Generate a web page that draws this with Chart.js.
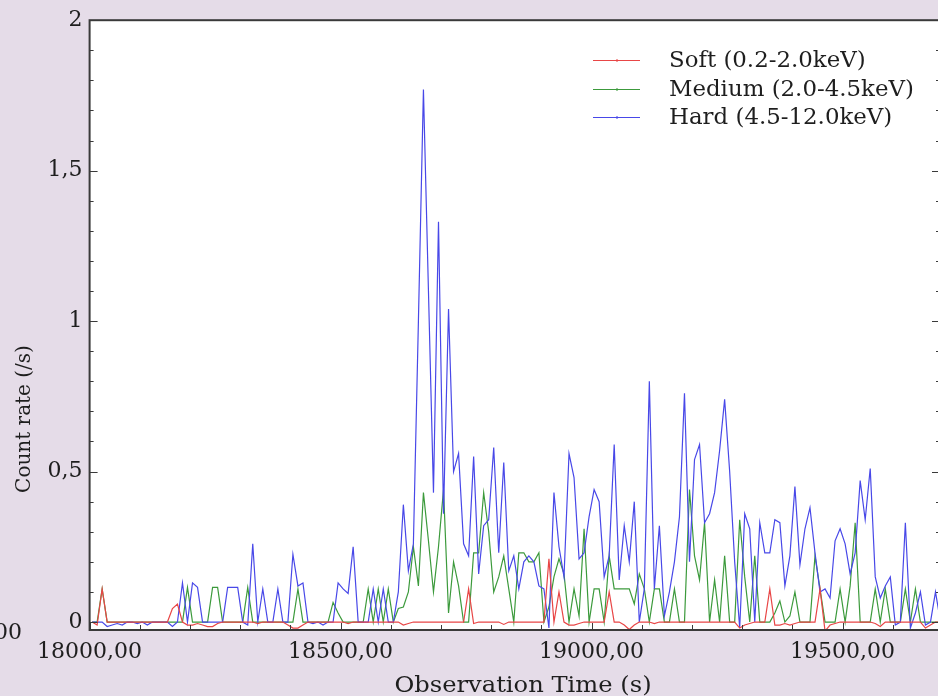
<!DOCTYPE html>
<html>
<head>
<meta charset="utf-8">
<title>Count rate</title>
<script src="https://cdn.jsdelivr.net/npm/chart.js@4.4.0/dist/chart.umd.min.js"></script>
<style>
  html, body { margin: 0; padding: 0; background: #e5dce8; overflow: hidden; }
  #wrap { position: relative; width: 950px; height: 696px; }
</style>
</head>
<body>
<div id="wrap"><canvas id="rateChart" width="950" height="696"></canvas></div>
<script>
// 10 s bins, first bin centred at 18005 s
const binStart = 18005;
const binWidth = 10;

const soft = [
  0, -0.01, 0.11, 0, 0, 0, 0, 0, 0, 0,
  0, 0, 0, 0, 0, 0, 0.045, 0.06, 0, -0.01,
  -0.01, -0.005, -0.01, -0.015, -0.015, -0.005, 0, 0, 0, 0,
  0, 0, 0, -0.005, 0, 0, 0, 0, 0, -0.01,
  -0.02, -0.02, -0.01, 0, 0, 0, 0, 0, 0, 0,
  0, -0.005, 0, 0, 0, 0, 0, 0, 0, 0,
  0, 0, -0.01, -0.005, 0, 0, 0, 0, 0, 0,
  0, 0, 0, 0, 0, 0.11, -0.005, 0, 0, 0,
  0, 0, -0.008, 0, 0, 0, 0, 0, 0, 0,
  0, 0.21, 0, 0.1, 0, -0.01, -0.01, -0.005, 0, 0,
  0, 0, 0, 0.1, 0, 0, -0.01, -0.025, -0.01, 0,
  0, 0, -0.005, 0, 0, 0, 0, 0, 0, 0,
  0, 0, 0, 0, 0, 0, 0, 0, 0, -0.02,
  -0.01, -0.005, 0, 0, 0, 0.11, -0.01, -0.01, -0.005, -0.01,
  -0.005, 0, 0, 0, 0, 0.11, -0.03, -0.01, -0.005, 0,
  0, 0, 0, 0, 0, 0, -0.005, -0.015, 0, 0,
  0, 0, 0, 0, 0, 0, -0.02, -0.01, 0, 0,
];

const medium = [
  0, 0, 0.11, 0, 0, 0, 0, 0, 0, 0,
  0, 0, 0, 0, 0, 0, 0, 0, 0, 0.115,
  0, 0, 0, 0, 0.115, 0.115, 0, 0, 0, 0,
  0, 0.115, 0, 0, 0, 0, 0, 0, 0, 0,
  0, 0.11, 0, 0, 0, 0, 0, 0, 0.065, 0.03,
  0, 0, 0, 0, 0, 0.11, 0, 0.11, 0, 0.11,
  0, 0.045, 0.05, 0.1, 0.25, 0.12, 0.43, 0.27, 0.1, 0.25,
  0.44, 0.03, 0.2, 0.12, 0, 0, 0.23, 0.23, 0.43, 0.3,
  0.1, 0.15, 0.22, 0.11, 0, 0.23, 0.23, 0.2, 0.2, 0.23,
  0, 0.05, 0.15, 0.21, 0.16, 0, 0.11, 0.02, 0.31, 0,
  0.11, 0.11, 0, 0.22, 0.11, 0.11, 0.11, 0.11, 0.06, 0.16,
  0.11, 0, 0.11, 0.11, 0, 0, 0.11, 0, 0, 0.44,
  0.22, 0.14, 0.33, 0, 0.14, 0, 0.22, 0, 0, 0.34,
  0.15, 0, 0.22, 0, 0, 0, 0.03, 0.07, 0, 0.02,
  0.1, 0, 0, 0, 0.22, 0.11, 0, 0, 0, 0.11,
  0, 0.12, 0.33, 0, 0, 0, 0.11, 0, 0.11, 0,
  0, 0, 0.11, 0, 0.11, 0, 0, 0, 0, 0,
];

const hard = [
  0, 0, 0, -0.015, -0.01, -0.005, -0.01, 0, 0, -0.005,
  0, -0.01, 0, 0, 0, 0, -0.015, 0, 0.13, 0,
  0.13, 0.115, 0, 0, 0, 0, 0, 0.115, 0.115, 0.115,
  0, -0.01, 0.26, 0, 0.11, 0, 0, 0.11, 0, 0,
  0.225, 0.12, 0.13, 0, -0.005, 0, -0.01, 0, 0, 0.13,
  0.11, 0.095, 0.25, 0, 0, 0, 0.11, 0, 0.11, 0,
  0, 0.1, 0.39, 0.17, 0.26, 1.0, 1.77, 1.1, 0.43, 1.33,
  0.36, 1.04, 0.5, 0.56, 0.26, 0.22, 0.55, 0.16, 0.32, 0.34,
  0.58, 0.23, 0.53, 0.17, 0.22, 0.11, 0.2, 0.22, 0.2, 0.12,
  0.11, -0.02, 0.43, 0.25, 0.15, 0.56, 0.48, 0.21, 0.23, 0.35,
  0.44, 0.4, 0.15, 0.22, 0.59, 0.14, 0.32, 0.2, 0.4, 0,
  0.11, 0.8, 0.11, 0.32, 0.02, 0.1, 0.2, 0.35, 0.76, 0.2,
  0.54, 0.59, 0.33, 0.36, 0.43, 0.57, 0.74, 0.5, 0.2, -0.02,
  0.36, 0.31, 0, 0.33, 0.23, 0.23, 0.34, 0.33, 0.12, 0.22,
  0.45, 0.19, 0.31, 0.38, 0.23, 0.1, 0.11, 0.08, 0.27, 0.31,
  0.26, 0.16, 0.23, 0.47, 0.34, 0.51, 0.15, 0.08, 0.12, 0.15,
  -0.01, 0, 0.33, -0.02, 0.03, 0.1, -0.01, 0, 0.1, 0,
];

const seriesLabels = ["Soft (0.2-2.0keV)", "Medium (2.0-4.5keV)", "Hard (4.5-12.0keV)"];
const seriesColors = ["#e84646", "#3c9a3c", "#4848e8"];
const yTickValues = [0, 0.5, 1, 1.5, 2];
const xTickStep = 100;
const xLabelStep = 500;
const xTitle = "Observation Time (s)";
const yTitle = "Count rate (/s)";

const serif = "'DejaVu Serif', serif";
const times = soft.map((_, i) => binStart + i * binWidth);
const toPoints = (values) => values.map((v, i) => ({ x: times[i], y: v }));
const commaNumber = (v, digits) =>
  (digits === undefined ? String(v) : v.toFixed(digits)).replace(".", ",");

const plotBackground = {
  id: "plotBackground",
  beforeDraw(chart) {
    const { ctx, chartArea: a } = chart;
    ctx.save();
    ctx.fillStyle = "#ffffff";
    ctx.fillRect(a.left, a.top, a.right - a.left, a.bottom - a.top);
    ctx.restore();
  },
};

// box round the plot with inward tick marks
const axisFrame = {
  id: "axisFrame",
  afterDraw(chart) {
    const { ctx, chartArea: a, scales } = chart;
    ctx.save();
    ctx.strokeStyle = "#3a3a3a";
    ctx.lineWidth = 1;
    const seg = (x1, y1, x2, y2) => {
      ctx.beginPath();
      ctx.moveTo(x1, y1);
      ctx.lineTo(x2, y2);
      ctx.stroke();
    };
    for (let k = 0; k <= 20; k++) {
      const y = Math.round(scales.y.getPixelForValue(k / 10)) + 0.5;
      const len = k % 5 === 0 ? 8 : 4;
      seg(a.left, y, a.left + len, y);
      seg(a.right, y, a.right - len, y);
    }
    scales.x.ticks.forEach((t) => {
      const x = Math.round(scales.x.getPixelForValue(t.value)) + 0.5;
      const len = t.value % xLabelStep === 0 ? 7 : 5;
      seg(x, a.bottom, x, a.bottom - len);
    });
    ctx.lineWidth = 2;
    ctx.strokeRect(a.left, a.top, a.right - a.left, a.bottom - a.top);
    ctx.restore();
  },
};

// text with an optional horizontal stretch
function wideText(ctx, text, x, y, stretch) {
  ctx.save();
  ctx.translate(x, y);
  ctx.scale(stretch, 1);
  ctx.fillText(text, 0, 0);
  ctx.restore();
}

const textLayer = {
  id: "textLayer",
  afterDraw(chart) {
    const { ctx } = chart;
    ctx.save();
    ctx.fillStyle = "#1e1e1e";
    ctx.textBaseline = "middle";

    ctx.font = "22px " + serif;
    ctx.textAlign = "center";
    wideText(ctx, xTitle, 523, 686, 1.1);

    ctx.font = "20px " + serif;
    ctx.save();
    ctx.translate(25, 419);
    ctx.rotate(-Math.PI / 2);
    ctx.fillText(yTitle, 0, 0);
    ctx.restore();

    ctx.font = "22px " + serif;
    ctx.textAlign = "left";
    ctx.fillText("00", -6, 633);

    // legend, inside the plot area
    const rows = [60, 89, 117];
    chart.data.datasets.forEach((ds, i) => {
      const y = rows[i];
      ctx.strokeStyle = ds.borderColor;
      ctx.lineWidth = 1.2;
      ctx.beginPath();
      ctx.moveTo(593, y + 0.5);
      ctx.lineTo(640, y + 0.5);
      ctx.stroke();
      ctx.fillStyle = ds.borderColor;
      ctx.fillRect(616, y - 0.5, 2, 2);
      ctx.fillStyle = "#1e1e1e";
      ctx.font = "22px " + serif;
      wideText(ctx, ds.label, 669, y + 1, 1.04);
    });
    ctx.restore();
  },
};

const seriesValues = [soft, medium, hard];
const drawOrder = [0, 2, 1];

new Chart(document.getElementById("rateChart"), {
  type: "line",
  data: {
    datasets: seriesValues.map((values, i) => ({
      label: seriesLabels[i],
      data: toPoints(values),
      borderColor: seriesColors[i],
      backgroundColor: seriesColors[i],
      borderWidth: 1.2,
      pointRadius: 0,
      tension: 0,
      fill: false,
      order: drawOrder[i],
    })),
  },
  options: {
    responsive: false,
    animation: false,
    layout: { padding: { top: 19, right: 10, left: 0, bottom: 0 } },
    plugins: {
      legend: { display: false },
      tooltip: { enabled: false },
    },
    scales: {
      x: {
        type: "linear",
        min: 18000,
        max: 19694,
        afterBuildTicks: (scale) => {
          const ticks = [];
          for (let v = 18000; v <= scale.max; v += xTickStep) ticks.push({ value: v });
          scale.ticks = ticks;
        },
        afterFit: (scale) => {
          scale.height = 66;
        },
        grid: { display: false, drawTicks: false },
        border: { display: false },
        ticks: {
          autoSkip: false,
          maxRotation: 0,
          padding: 9,
          color: "#1e1e1e",
          font: { family: serif, size: 22 },
          callback: (v) => (v % xLabelStep === 0 ? commaNumber(v, 2) : ""),
        },
      },
      y: {
        min: -0.0265,
        max: 2,
        afterBuildTicks: (scale) => {
          scale.ticks = yTickValues.map((v) => ({ value: v }));
        },
        afterFit: (scale) => {
          scale.width = 89.6;
        },
        grid: { display: false, drawTicks: false },
        border: { display: false },
        ticks: {
          padding: 7,
          color: "#1e1e1e",
          font: { family: serif, size: 22 },
          callback: (v) => commaNumber(v),
        },
      },
    },
  },
  plugins: [plotBackground, axisFrame, textLayer],
});
</script>
</body>
</html>
